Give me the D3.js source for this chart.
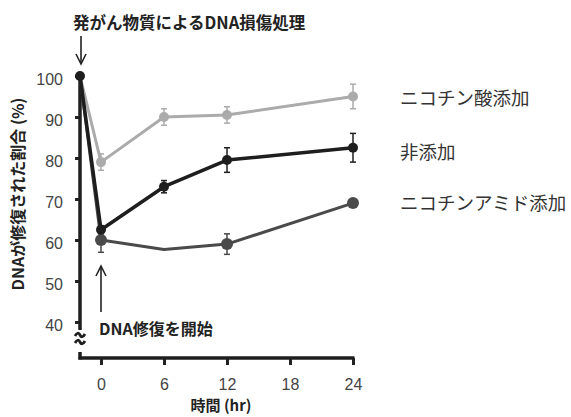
<!DOCTYPE html>
<html>
<head>
<meta charset="utf-8">
<script src="https://cdn.jsdelivr.net/npm/d3@7"></script>
<style>
  body { margin: 0; background: #fff; }
  text { font-family: "Liberation Sans", Arial, sans-serif; }
  .jp { font-family: "Noto Sans CJK JP", sans-serif; }
</style>
</head>
<body>
<script>
const w = 571;
const h = 417;

// hours after damage treatment (-2 = before repair starts)
const times = [-2, 0, 6, 12, 24];
const xTicks = [0, 6, 12, 18, 24];
const yTicks = [40, 50, 60, 70, 80, 90, 100];

const acidVals = [100, 79, 90, 90.5, 95];
const acidErr = [0, 2, 2, 2, 3];
const acidMarks = [false, true, true, true, true];

const ctrlVals = [100, 62.5, 73, 79.5, 82.5];
const ctrlErr = [0, 1, 1.5, 3, 3.5];
const ctrlMarks = [true, true, true, true, true];

const amideVals = [100, 60, 57.7, 59, 69];
const amideErr = [0, 3, 0, 2.5, 0];
const amideMarks = [false, true, false, true, true];

const labels = ["ニコチン酸添加", "非添加", "ニコチンアミド添加"];

const series = [
  {name: labels[0], vals: acidVals, err: acidErr, marks: acidMarks, color: "#ababab", width: 3, r: 5, labelY: 98},
  {name: labels[2], vals: amideVals, err: amideErr, marks: amideMarks, color: "#4a4a4a", width: 3, r: 6, labelY: 203},
  {name: labels[1], vals: ctrlVals, err: ctrlErr, marks: ctrlMarks, color: "#1e1e1e", width: 3.5, r: 5, labelY: 152}
];

const svg = d3.select("body")
              .append("svg")
              .attr("width", w)
              .attr("height", h);

const x = d3.scaleLinear().domain([0, 24]).range([101, 353]);
const y = d3.scaleLinear().domain([40, 100]).range([322, 76]);
const axisX = x(-2);
const baseY = 358;

// y axis ticks + labels
const yAxis = svg.append("g")
   .attr("transform", "translate(" + axisX + ",0)")
   .call(d3.axisLeft(y).tickValues(yTicks).tickSize(5).tickPadding(12));
yAxis.select(".domain").remove();
yAxis.selectAll("line").attr("stroke", "#222").attr("stroke-width", 3);
yAxis.selectAll("text")
   .attr("fill", "#444")
   .attr("dy", "0.55em")
   .style("font-size", "16px");

// x axis ticks + labels
const xAxis = svg.append("g")
   .attr("transform", "translate(0," + baseY + ")")
   .call(d3.axisBottom(x).tickValues(xTicks).tickSize(7).tickPadding(14));
xAxis.select(".domain").remove();
xAxis.selectAll("line").attr("stroke", "#222").attr("stroke-width", 3);
xAxis.selectAll("text")
   .attr("fill", "#444")
   .style("font-size", "16px");

// axis lines with a break near the bottom of y
const axisLine = svg.append("g").attr("stroke", "#1e1e1e").attr("fill", "none").attr("stroke-width", 3.5);
axisLine.append("line").attr("x1", axisX).attr("x2", axisX).attr("y1", y(100) - 2).attr("y2", y(40) + 8);
axisLine.append("line").attr("x1", axisX).attr("x2", axisX).attr("y1", baseY - 6).attr("y2", baseY + 1.5);
axisLine.append("line").attr("x1", axisX - 1.5).attr("x2", x(24) + 1.5).attr("y1", baseY).attr("y2", baseY);
[0, 7].forEach(function(off) {
  axisLine.append("path")
    .attr("stroke-width", 2.8)
    .attr("d", "M" + (axisX - 5) + "," + (y(40) + 14 + off) +
               " q3,-5 5,-1 q2,4 5,-1");
});

// error bars
series.forEach(function(s) {
  const g = svg.append("g").attr("stroke", s.color).attr("stroke-width", 1.5);
  times.forEach(function(t, i) {
    if (!s.err[i]) return;
    const cx = x(t);
    const y1 = y(s.vals[i] + s.err[i]);
    const y2 = y(s.vals[i] - s.err[i]);
    g.append("line").attr("x1", cx).attr("x2", cx).attr("y1", y1).attr("y2", y2);
    g.append("line").attr("x1", cx - 3).attr("x2", cx + 3).attr("y1", y1).attr("y2", y1);
    g.append("line").attr("x1", cx - 3).attr("x2", cx + 3).attr("y1", y2).attr("y2", y2);
  });
});

// lines + markers
const line = d3.line()
  .x(function(d) { return x(d[0]); })
  .y(function(d) { return y(d[1]); });

series.forEach(function(s) {
  const pts = times.map(function(t, i) { return [t, s.vals[i], s.marks[i]]; });
  svg.append("path")
     .datum(pts)
     .attr("fill", "none")
     .attr("stroke", s.color)
     .attr("stroke-width", s.width)
     .attr("stroke-linejoin", "round")
     .attr("d", line);
  svg.selectAll(null)
     .data(pts.filter(function(d) { return d[2]; }))
     .enter()
     .append("circle")
     .attr("cx", function(d) { return x(d[0]); })
     .attr("cy", function(d) { return y(d[1]); })
     .attr("r", s.r)
     .attr("fill", s.color);
  svg.append("text")
     .attr("class", "jp")
     .attr("x", 400)
     .attr("y", s.labelY)
     .attr("dy", "0.36em")
     .attr("fill", "#333")
     .style("font-size", "18.5px")
     .text(s.name);
});

// annotations
const arrow = function(x0, y0, y1) {
  const dir = y1 > y0 ? 1 : -1;
  const g = svg.append("g").attr("stroke", "#222").attr("fill", "none").attr("stroke-width", 1.6);
  g.append("line").attr("x1", x0).attr("x2", x0).attr("y1", y0).attr("y2", y1);
  g.append("path").attr("d", "M" + (x0 - 5) + "," + (y1 - dir * 10) + " L" + x0 + "," + y1 + " L" + (x0 + 5) + "," + (y1 - dir * 10));
};

svg.append("text")
   .attr("class", "jp")
   .attr("x", 73)
   .attr("y", 23)
   .attr("dy", "0.36em")
   .attr("fill", "#222")
   .attr("font-weight", "bold")
   .style("font-size", "16.5px")
   .text("発がん物質によるDNA損傷処理");
arrow(axisX + 1, 36, 64);

svg.append("text")
   .attr("class", "jp")
   .attr("x", 99)
   .attr("y", 329)
   .attr("dy", "0.36em")
   .attr("fill", "#222")
   .attr("font-weight", "bold")
   .style("font-size", "16px")
   .text("DNA修復を開始");
arrow(x(0), 312, 266);

// axis titles
svg.append("text")
   .attr("class", "jp")
   .attr("x", 221)
   .attr("y", 406)
   .attr("dy", "0.36em")
   .attr("text-anchor", "middle")
   .attr("fill", "#222")
   .attr("font-weight", "bold")
   .style("font-size", "15px")
   .text("時間 (hr)");

svg.append("text")
   .attr("class", "jp")
   .attr("transform", "translate(18,194) rotate(-90)")
   .attr("dy", "0.36em")
   .attr("text-anchor", "middle")
   .attr("fill", "#222")
   .attr("font-weight", "bold")
   .style("font-size", "16px")
   .text("DNAが修復された割合 (%)");
</script>
</body>
</html>
